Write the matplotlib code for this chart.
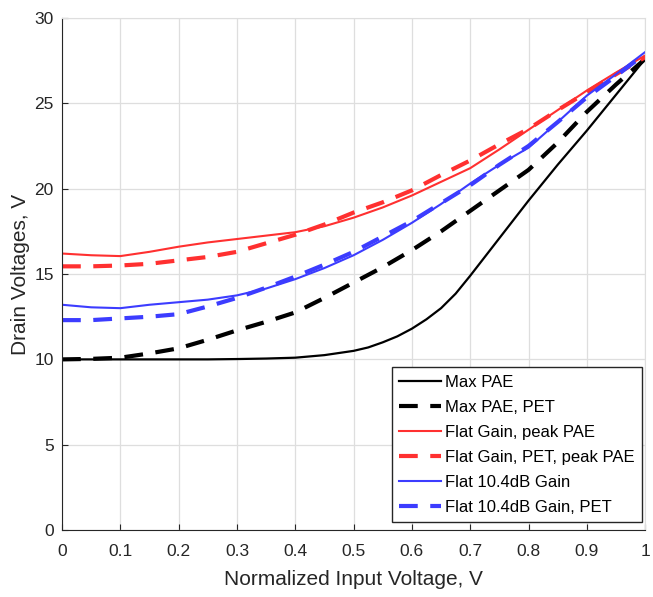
import numpy as np
import matplotlib
matplotlib.use("Agg")
import matplotlib.pyplot as plt

plt.rcParams['font.family'] = ['Liberation Sans', 'DejaVu Sans']

x = [0, 0.05, 0.1, 0.15, 0.2, 0.25, 0.3, 0.35, 0.4, 0.45, 0.5,
     0.55, 0.6, 0.65, 0.7, 0.75, 0.8, 0.85, 0.9, 0.95, 1.0]

# Max PAE has a sharp knee, read on a finer grid
x_knee = [0, 0.05, 0.1, 0.15, 0.2, 0.25, 0.3, 0.35, 0.4, 0.45, 0.5, 0.525,
          0.55, 0.575, 0.6, 0.625, 0.65, 0.675, 0.7, 0.725, 0.75, 0.8,
          0.85, 0.9, 0.95, 1.0]
max_pae = [10.0, 10.0, 10.0, 10.0, 10.0, 10.0, 10.02, 10.05, 10.1, 10.25, 10.5, 10.7,
           11.0, 11.35, 11.8, 12.35, 13.0, 13.85, 14.9, 16.0, 17.1, 19.3,
           21.4, 23.4, 25.5, 27.6]
max_pae_pet = [10.0, 10.03, 10.1, 10.35, 10.65, 11.15, 11.7, 12.2, 12.75, 13.6, 14.5,
               15.4, 16.4, 17.5, 18.7, 19.9, 21.1, 22.7, 24.5, 26.1, 27.6]
flat_peak = [16.2, 16.1, 16.05, 16.3, 16.6, 16.85, 17.05, 17.25, 17.45, 17.8, 18.3,
             18.9, 19.6, 20.4, 21.2, 22.3, 23.45, 24.6, 25.75, 26.8, 27.8]
flat_pet_peak = [15.45, 15.45, 15.5, 15.6, 15.8, 16.0, 16.3, 16.8, 17.3, 17.9, 18.6,
                 19.2, 19.9, 20.8, 21.65, 22.6, 23.5, 24.6, 25.65, 26.7, 27.7]
flat_104 = [13.2, 13.05, 13.0, 13.2, 13.35, 13.5, 13.75, 14.15, 14.7, 15.35, 16.1,
            17.0, 18.0, 19.1, 20.3, 21.4, 22.4, 23.9, 25.45, 26.7, 28.0]
flat_104_pet = [12.3, 12.3, 12.4, 12.5, 12.65, 13.1, 13.6, 14.2, 14.85, 15.55, 16.3,
                17.2, 18.1, 19.15, 20.2, 21.4, 22.5, 23.9, 25.35, 26.6, 27.9]

labels = ['Max PAE', 'Max PAE, PET', 'Flat Gain, peak PAE',
          'Flat Gain, PET, peak PAE', 'Flat 10.4dB Gain', 'Flat 10.4dB Gain, PET']

fig = plt.figure(figsize=(6.53, 5.97), dpi=100)
ax = fig.add_axes([0.095, 0.112, 0.893, 0.858])

red = '#ff3030'
blue = '#3c3cff'
dash = (4.5, 3)
ax.plot(x_knee, max_pae, color='black', lw=1.6, label=labels[0])
ax.plot(x, max_pae_pet, color='black', lw=3, dashes=dash, label=labels[1])
ax.plot(x, flat_peak, color=red, lw=1.5, label=labels[2])
ax.plot(x, flat_pet_peak, color=red, lw=3, dashes=dash, label=labels[3])
ax.plot(x, flat_104, color=blue, lw=1.5, label=labels[4])
ax.plot(x, flat_104_pet, color=blue, lw=3, dashes=dash, label=labels[5])

ax.set_xlim(0, 1)
ax.set_ylim(0, 30)
ax.set_xticks(np.arange(0, 1.01, 0.1))
ax.set_xticklabels(['0', '0.1', '0.2', '0.3', '0.4', '0.5', '0.6', '0.7', '0.8', '0.9', '1'])
ax.set_yticks(np.arange(0, 31, 5))
ax.grid(True, color='#dedede', lw=0.9)
ax.set_axisbelow(True)
ax.tick_params(direction='in', length=4, labelsize=12.5, colors='#262626')
ax.tick_params(axis='x', pad=10)
ax.tick_params(axis='y', pad=6)
for s in ['top', 'right']:
    ax.spines[s].set_color('#dedede')
for s in ['left', 'bottom']:
    ax.spines[s].set_color('#262626')

ax.set_xlabel('Normalized Input Voltage, V', fontsize=15, color='#262626', labelpad=8)
ax.set_ylabel('Drain Voltages, V', fontsize=15, color='#262626', labelpad=3)

leg = ax.legend(loc='lower right', bbox_to_anchor=(0.995, 0.015), fontsize=12,
                frameon=True, fancybox=False, edgecolor='#262626', framealpha=1,
                handlelength=2.5, handletextpad=0.25, labelspacing=0.6,
                borderpad=0.45, borderaxespad=0)
leg.get_frame().set_linewidth(1.0)

fig.savefig('out.png', dpi=100)
